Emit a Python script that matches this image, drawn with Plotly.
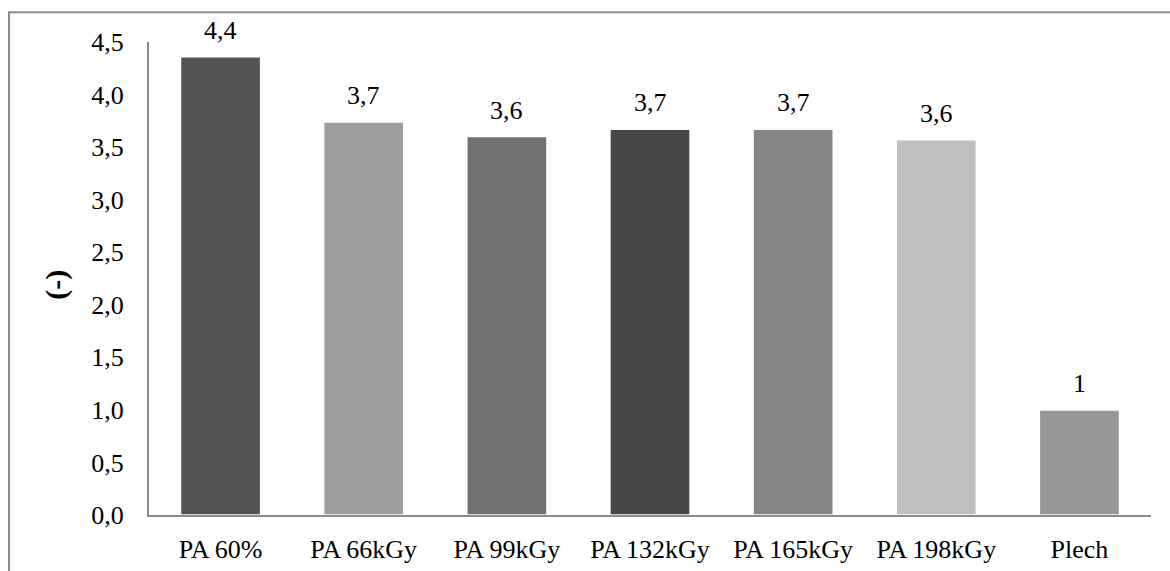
import plotly.graph_objects as go

# Sample categories and measured ratios
categories = ["PA 60%", "PA 66kGy", "PA 99kGy", "PA 132kGy", "PA 165kGy", "PA 198kGy", "Plech"]
values = [4.36, 3.74, 3.60, 3.67, 3.67, 3.57, 1.00]
bar_colors = ["#545454", "#9d9d9d", "#727272", "#474747", "#858585", "#bfbfbf", "#979797"]
y_ticks = [0.0, 0.5, 1.0, 1.5, 2.0, 2.5, 3.0, 3.5, 4.0, 4.5]


def fmt_label(v):
    # comma decimal separator; whole numbers shown without decimals
    r = round(v, 1)
    if abs(r - round(r)) < 1e-9:
        return str(int(round(r)))
    return f"{r:.1f}".replace(".", ",")


FONT = "'Liberation Serif', 'Times New Roman', serif"

fig = go.Figure(
    go.Bar(
        x=categories,
        y=values,
        width=0.56,
        marker=dict(color=bar_colors, line=dict(color="#ffffff", width=1.5)),
        hoverinfo="x+y",
    )
)

# value labels above bars
for c, v in zip(categories, values):
    fig.add_annotation(
        x=c, y=v, text=fmt_label(v), showarrow=False,
        xanchor="center", yanchor="bottom", yshift=10,
        font=dict(family=FONT, size=26, color="#000000"),
    )

# y-axis title
fig.add_annotation(
    xref="paper", yref="paper", x=-0.093, y=0.4865,
    text="<b>(-)</b>", textangle=-90, showarrow=False,
    xanchor="center", yanchor="middle",
    font=dict(family=FONT, size=30, color="#000000"),
)

# outer frame around the chart
fig.add_shape(
    type="rect", xref="paper", yref="paper",
    x0=-0.1397, y0=-0.3, x1=1.3, y1=1.0627,
    line=dict(color="#8c8c8c", width=2), fillcolor="rgba(0,0,0,0)",
    layer="below",
)

fig.update_layout(
    width=1170, height=571,
    margin=dict(l=149, r=19, t=42, b=56),
    paper_bgcolor="#ffffff", plot_bgcolor="#ffffff",
    showlegend=False,
    bargap=0.44,
    font=dict(family=FONT, size=26, color="#000000"),
)

fig.update_xaxes(
    showline=True, linecolor="#8c8c8c", linewidth=2,
    showgrid=False, ticks="", ticklabelstandoff=10, automargin=False,
    tickfont=dict(family=FONT, size=26, color="#000000"),
)
fig.update_yaxes(
    range=[0, 4.5], tickvals=y_ticks,
    ticktext=[f"{t:.1f}".replace(".", ",") for t in y_ticks],
    showline=True, linecolor="#8c8c8c", linewidth=2,
    showgrid=False, zeroline=False, ticks="", ticklabelstandoff=18, automargin=False,
    tickfont=dict(family=FONT, size=26, color="#000000"),
)

fig.write_html("out.html")
